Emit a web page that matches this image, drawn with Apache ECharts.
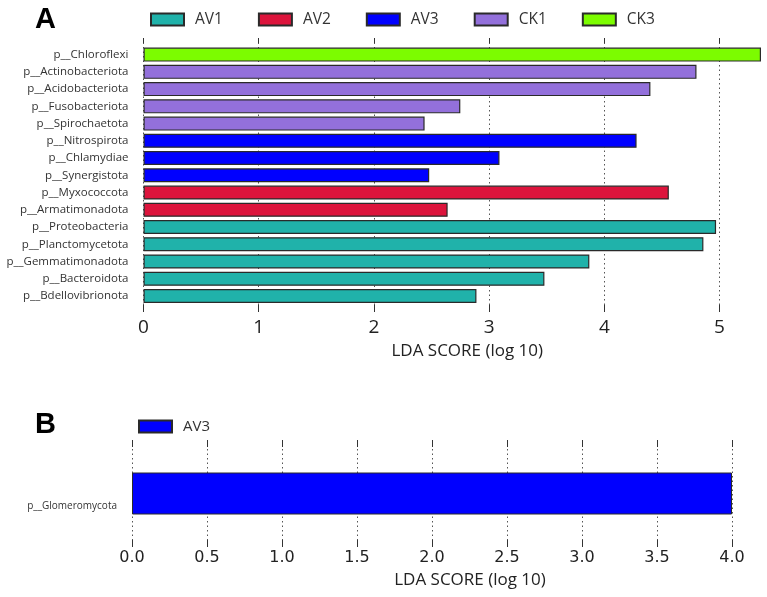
<!DOCTYPE html>
<html><head><meta charset="utf-8">
<script src="https://cdn.jsdelivr.net/npm/echarts@6/dist/echarts.min.js"></script>
<style>html,body{margin:0;padding:0;background:#fff}#c{width:767px;height:597px}</style>
</head><body><div id="c"></div>
<script>
// ---- Data ----
const groups = ['AV1', 'AV2', 'AV3', 'CK1', 'CK3'];
const categoriesA = ['p__Chloroflexi','p__Actinobacteriota','p__Acidobacteriota','p__Fusobacteriota','p__Spirochaetota','p__Nitrospirota','p__Chlamydiae','p__Synergistota','p__Myxococcota','p__Armatimonadota','p__Proteobacteria','p__Planctomycetota','p__Gemmatimonadota','p__Bacteroidota','p__Bdellovibrionota'];
const ldaA = [5.36, 4.80, 4.40, 2.75, 2.44, 4.28, 3.09, 2.48, 4.56, 2.64, 4.97, 4.86, 3.87, 3.48, 2.89];
const groupA = ['CK3','CK1','CK1','CK1','CK1','AV3','AV3','AV3','AV2','AV2','AV1','AV1','AV1','AV1','AV1'];
const ticksA = [0, 1, 2, 3, 4, 5];
const categoriesB = ['p__Glomeromycota'];
const ldaB = [4.0];
const groupB = ['AV3'];
const axisTitle = 'LDA SCORE (log 10)';

// ---- Style ----
const colorMap = {AV1:'#20B2AA', AV2:'#DC143C', AV3:'#0000FF', CK1:'#9370DB', CK3:'#7CFC00'};
const border = '#2a2a2a';
const gridColor = '#555';
const gridLineStyle = {color:gridColor, width:1, type:[1.5,3]};

const chart = echarts.init(document.getElementById('c'), null, {renderer:'canvas'});
const maxA = Math.max(...ldaA);
const maxB = Math.max(...ldaB);
// split lines at integer ticks only; the extent line at maxA is made transparent
const splitColorsA = ticksA.map(() => gridColor).concat(['rgba(0,0,0,0)']);

const seriesA = groups.map(g => ({
  name: g, type: 'bar', xAxisIndex: 2, yAxisIndex: 1, stack: 'A', barWidth: 14,
  itemStyle: {color: colorMap[g], borderColor: border, borderWidth: 1.2},
  data: ldaA.map((v, i) => groupA[i] === g ? v : '-')
}));
const seriesB = [{
  name: groupB[0], type: 'bar', xAxisIndex: 3, yAxisIndex: 2, barWidth: 42,
  itemStyle: {color: colorMap[groupB[0]], borderColor: border, borderWidth: 1},
  data: ldaB
}];

const FA = 'Open Sans';
chart.setOption({
  animation: false,
  backgroundColor: '#fff',
  graphic: [
    {type:'text', left: 35, top: 5, style:{text:'A', font:'bold 29px "Liberation Sans"', fill:'#000'}},
    {type:'text', left: 35, top: 410, style:{text:'B', font:'bold 29px "Liberation Sans"', fill:'#000'}}
  ],
  legend: [{
    data: groups, left: 150, top: 11.5, padding: 0, itemWidth: 33, itemHeight: 12, itemGap: 35, icon: 'rect',
    textStyle: {fontFamily: FA, fontSize: 15.5, color:'#333', padding:[0,0,0,6]}
  }, {
    data: groupB, left: 138, top: 419, padding: 0, itemWidth: 33, itemHeight: 12, icon: 'rect',
    textStyle: {fontFamily: FA, fontSize: 15, color:'#333', padding:[0,0,0,6]}
  }],
  grid: [
    {left: 143.5, right: 6, top: 38, height: 274},
    {left: 143.5, right: 6, top: 46, height: 258.6},
    {left: 132, right: 35, top: 440, height: 107}
  ],
  xAxis: [
    {gridIndex:0, type:'value', min:0, max:maxA, interval:1, position:'bottom',
     axisLine:{show:false},
     axisTick:{show:true, inside:true, length:7, customValues: ticksA, lineStyle:{color:'#333'}},
     axisLabel:{fontFamily:FA, fontSize:19, color:'#222', margin:6, customValues: ticksA},
     splitLine:{show:true, lineStyle:Object.assign({}, gridLineStyle, {color: splitColorsA})}},
    {gridIndex:0, type:'value', min:0, max:maxA, interval:1, position:'top',
     axisLine:{show:false},
     axisTick:{show:true, inside:true, length:5, customValues: ticksA, lineStyle:{color:'#333'}},
     axisLabel:{show:false}, splitLine:{show:false}},
    {gridIndex:1, type:'value', min:0, max:maxA, position:'bottom',
     axisLine:{show:false}, axisTick:{show:false}, axisLabel:{show:false}, splitLine:{show:false},
     name: axisTitle, nameLocation:'middle', nameGap:38.5,
     nameTextStyle:{fontFamily:FA, fontSize:17, color:'#222', padding:[0,0,0,30]}},
    {gridIndex:2, type:'value', min:0, max:maxB, interval:0.5, position:'bottom',
     axisLine:{show:false}, axisTick:{show:true, inside:true, length:7, lineStyle:{color:'#333'}},
     axisLabel:{fontFamily:'DejaVu Sans', fontSize:16, color:'#222', margin:3, formatter: v => v.toFixed(1)},
     splitLine:{show:true, lineStyle:gridLineStyle},
     name: axisTitle, nameLocation:'middle', nameGap:25,
     nameTextStyle:{fontFamily:FA, fontSize:17, color:'#222', padding:[0,0,0,76]}},
    {gridIndex:2, type:'value', min:0, max:maxB, interval:0.5, position:'top',
     axisLine:{show:false}, axisTick:{show:true, inside:true, length:7, lineStyle:{color:'#333'}},
     axisLabel:{show:false}, splitLine:{show:false}}
  ],
  yAxis: [
    {gridIndex:0, type:'category', data: categoriesA, show:false},
    {gridIndex:1, type:'category', data: categoriesA, inverse:true,
     axisLine:{show:false}, axisTick:{show:false},
     axisLabel:{fontFamily:FA, fontSize:11.5, color:'#333', margin:15}},
    {gridIndex:2, type:'category', data: categoriesB,
     axisLine:{show:false}, axisTick:{show:false},
     axisLabel:{fontFamily:FA, fontSize:10, color:'#333', margin:15, verticalAlign:'top', padding:[8,0,0,0]}}
  ],
  series: [...seriesA, ...seriesB]
});
</script></body></html>
